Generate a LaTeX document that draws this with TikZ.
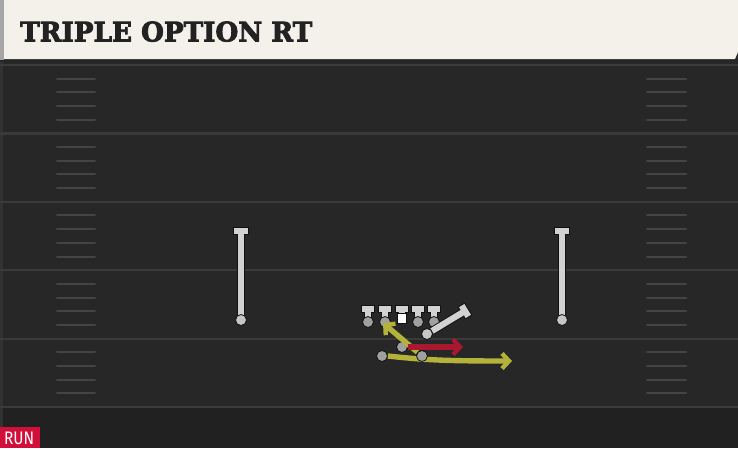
\documentclass[tikz,border=0pt]{standalone}
\usepackage{fontspec}
\usetikzlibrary{arrows.meta,calc}
\newfontfamily\titlefont[BoldFeatures={FakeBold=3}]{DejaVu Serif}
\newfontfamily\tagfont{Fira Sans}
\definecolor{field}{HTML}{272727}
\definecolor{fieldlow}{HTML}{212121}
\definecolor{yardc}{HTML}{3A3A3A}
\definecolor{hashc}{HTML}{444444}
\definecolor{headbg}{HTML}{F4F1EA}
\definecolor{headtx}{HTML}{222222}
\definecolor{plgray}{HTML}{D2D2D2}
\definecolor{ploutline}{HTML}{111111}
\definecolor{dotgray}{HTML}{A0A0A0}
\definecolor{yel}{HTML}{B3B23A}
\definecolor{redr}{HTML}{A8182F}
\definecolor{runred}{HTML}{D0103A}
\tikzset{
  yard/.style={draw=yardc, line width=2.2pt},
  hashm/.style={draw=hashc, line width=2pt, line cap=round},
  stemout/.style={draw=ploutline, line width=8pt},
  stemin/.style={draw=plgray, line width=6.2pt},
  pdot/.style={circle, fill=dotgray, draw=ploutline, line width=0.8pt, minimum size=11pt, inner sep=0pt},
  yroute/.style={draw=yel, line width=5.4pt, -{Straight Barb[length=7pt,width=15pt,line width=4.4pt]}},
  rroute/.style={draw=redr, line width=5.4pt, -{Straight Barb[length=7pt,width=15pt,line width=4.4pt]}},
}
\begin{document}
\begin{tikzpicture}[x=1pt,y=-1pt]
\useasboundingbox (0,0) rectangle (738,448);
% field
\fill[field] (0,0) rectangle (738,448);
\fill[fieldlow] (0,408) rectangle (738,448);
\fill[yardc!60!field] (0,60) rectangle (3,448);
% yard lines
\foreach \i in {0,...,5} {
  \draw[yard] (0,{65+68.4*\i}) -- (738,{65+68.4*\i});
}
% hash marks
\foreach \k in {1,...,24} {
  \pgfmathtruncatemacro{\m}{mod(\k,5)}
  \ifnum\m=0\relax\else
    \draw[hashm] (57,{65+13.68*\k}) -- (95,{65+13.68*\k});
    \draw[hashm] (647,{65+13.68*\k}) -- (686,{65+13.68*\k});
  \fi
}
% header
\fill[black!85] (0,58) rectangle (738,62);
\fill[gray!70] (0,0) rectangle (4,60);
\fill[headbg] (4,0) -- (738,0) -- (738,52) -- (735,59) -- (4,59) -- cycle;
\node[anchor=south west, inner sep=0pt, text=headtx] (title) at (20,42)
  {\resizebox{292pt}{20pt}{\titlefont\bfseries TRIPLE OPTION RT}};
% RUN tag
\fill[runred] (0,427) rectangle (40,448);
\node[anchor=south west, inner sep=0pt, text=white] (run) at (4,445)
  {\resizebox{30pt}{12.5pt}{\tagfont RUN}};
% receivers
\foreach \nm/\x in {wrl/241, wrr/562} {
  \draw[stemout] (\x,231) -- (\x,320);
  \draw[stemout] (\x-8,231) -- (\x+8,231);
  \draw[stemin] (\x,231) -- (\x,320);
  \draw[stemin] (\x-7.1,231) -- (\x+7.1,231);
  \node[pdot, fill=plgray!85!gray] (\nm) at (\x,320) {};
}
% linemen
\foreach \nm/\x in {lt/368, lg/385, rg/418, rt/434} {
  \draw[stemout] (\x,309) -- (\x,321);
  \draw[stemout] (\x-7,309) -- (\x+7,309);
  \draw[stemin] (\x,309) -- (\x,321);
  \draw[stemin] (\x-6.1,309) -- (\x+6.1,309);
  \node[pdot] (\nm) at (\x,322) {};
}
% center
\draw[stemout] (402,309) -- (402,314);
\draw[stemout] (395,309) -- (409,309);
\draw[stemin] (402,309) -- (402,314);
\draw[stemin] (395.9,309) -- (408.1,309);
\node[fill=white, draw=ploutline, line width=0.7pt, minimum size=9.5pt, inner sep=0pt] (c) at (402,318.5) {};
% tight end (angled)
\coordinate (tebar) at (465,311);
\node[pdot, fill=plgray!85!gray] (te) at (427,334) {};
\draw[stemout] (te) -- (tebar);
\draw[stemout] ($(tebar)+(-3.8,-6.2)$) -- ($(tebar)+(3.8,6.2)$);
\draw[stemin] (te) -- (tebar);
\draw[stemin] ($(tebar)+(-3.3,-5.4)$) -- ($(tebar)+(3.3,5.4)$);
\node[pdot, fill=plgray!85!gray] at (427,334) {};
% backs
\node[pdot] (qb) at (402,347) {};
\node[pdot] (fb) at (422,356) {};
\node[pdot] (hb) at (382,356) {};
\coordinate (fbend) at (383,323);
\coordinate (qbend) at (463,347);
\coordinate (hbend) at (512,361);
% routes
\draw[yroute] (hb.east) .. controls (425,360) and (445,361) .. (hbend);
\draw[yroute] (fb) -- (fbend);
\draw[rroute] (qb.east) -- (qbend);
\node[pdot] at (422,356) {};
\end{tikzpicture}
\end{document}
